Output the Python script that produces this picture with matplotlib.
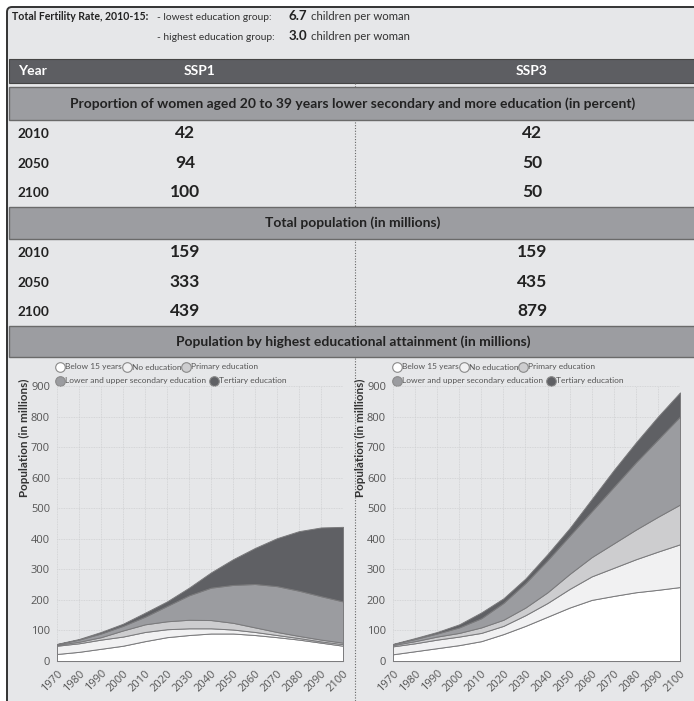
import matplotlib
matplotlib.use("Agg")
import matplotlib.pyplot as plt
from matplotlib.patches import Rectangle, FancyBboxPatch

# ---------------- data ----------------
years = [1970, 1980, 1990, 2000, 2010, 2020, 2030, 2040, 2050, 2060, 2070, 2080, 2090, 2100]
categories = ["Below 15 years", "No education", "Primary education",
              "Lower and upper secondary education", "Tertiary education"]

# SSP1 (millions), per category
ssp1_below15 = [23, 30, 40, 50, 65, 78, 85, 90, 90, 85, 78, 70, 60, 50]
ssp1_noedu   = [27, 28, 30, 30, 30, 26, 22, 17, 13, 10, 7, 5, 4, 5]
ssp1_primary = [3, 5, 8, 20, 25, 26, 28, 27, 22, 15, 10, 7, 6, 5]
ssp1_second  = [2, 7, 12, 15, 25, 50, 80, 106, 124, 142, 150, 148, 142, 135]
ssp1_tertiary = [1, 2, 5, 7, 13, 15, 25, 50, 84, 118, 157, 195, 225, 244]

# SSP3 (millions), per category
ssp3_below15 = [22, 32, 42, 52, 65, 88, 115, 145, 175, 200, 213, 225, 233, 242]
ssp3_noedu   = [26, 26, 28, 28, 27, 27, 35, 45, 61, 77, 92, 108, 125, 140]
ssp3_primary = [4, 7, 10, 12, 18, 20, 25, 35, 49, 63, 80, 97, 114, 130]
ssp3_second  = [3, 7, 10, 18, 30, 55, 80, 105, 125, 150, 185, 220, 253, 288]
ssp3_tertiary = [1, 3, 5, 10, 19, 15, 15, 20, 25, 40, 55, 65, 75, 79]

table_years = ["2010", "2050", "2100"]
prop_ssp1 = ["42", "94", "100"]
prop_ssp3 = ["42", "50", "50"]
pop_ssp1 = ["159", "333", "439"]
pop_ssp3 = ["159", "435", "879"]

tfr_low = "6.7"
tfr_high = "3.0"

# ---------------- style ----------------
W, H = 694, 701
BG = "#e6e7e9"
DARK = "#5d5e62"
MID = "#9c9da1"
fills = ["#ffffff", "#f1f1f2", "#cdcdcf", "#9b9ca0", "#5f6064"]
FONT = ["Lato", "DejaVu Sans"]
TFONT = ["Open Sans", "DejaVu Sans"]

fig = plt.figure(figsize=(W / 100, H / 100), dpi=100)
fig.patch.set_facecolor("white")

bg = fig.add_axes([0, 0, 1, 1])
bg.set_xlim(0, W)
bg.set_ylim(H, 0)
bg.axis("off")

# outer panel
bg.add_patch(FancyBboxPatch((7, 7), W + 20, H + 20, boxstyle="round,pad=0,rounding_size=5",
                            facecolor=BG, edgecolor="#333333", linewidth=1.4, zorder=0))

# header text
bg.text(12, 17, "Total Fertility Rate, 2010-15:", fontsize=7.6, fontweight="bold",
        family=FONT, va="center", ha="left", color="#222222")
bg.text(157, 17, "- lowest education group:", fontsize=7.4, family=FONT, va="center", color="#333333")
bg.text(157, 37, "- highest education group:", fontsize=7.4, family=FONT, va="center", color="#333333")
bg.text(289, 16, tfr_low, fontsize=9.6, fontweight="bold", family=FONT, va="center", color="#222222")
bg.text(289, 36, tfr_high, fontsize=9.6, fontweight="bold", family=FONT, va="center", color="#222222")
bg.text(311, 17, "children per woman", fontsize=8.2, family=FONT, va="center", color="#333333")
bg.text(311, 37, "children per woman", fontsize=8.2, family=FONT, va="center", color="#333333")

# dark header bar
bg.add_patch(Rectangle((9, 59), W, 24, facecolor=DARK, edgecolor="#444444", lw=0.8, zorder=1))
bg.text(18, 71, "Year", fontsize=10, fontweight="bold", family=FONT, color="white", va="center")
bg.text(200, 71, "SSP1", fontsize=10, fontweight="bold", family=FONT, color="white", va="center", ha="center")
bg.text(532, 71, "SSP3", fontsize=10, fontweight="bold", family=FONT, color="white", va="center", ha="center")

# divider
bg.plot([355, 355], [83, H], color="#666666", lw=0.8, ls=(0, (1, 1.5)), zorder=1)


def section(y0, y1, label):
    bg.add_patch(Rectangle((9, y0), W, y1 - y0, facecolor=MID, edgecolor="#6a6a6a", lw=1.0, zorder=2))
    bg.text(353, (y0 + y1) / 2, label, fontsize=10, fontweight="bold", family=FONT,
            color="#222222", va="center", ha="center", zorder=3)


section(87, 120, "Proportion of women aged 20 to 39 years lower secondary and more education (in percent)")
section(207, 239, "Total population (in millions)")
section(326, 357, "Population by highest educational attainment (in millions)")

rows1 = [133, 163, 192]
rows2 = [252, 282, 311]
for ys, left, right in [(rows1, prop_ssp1, prop_ssp3), (rows2, pop_ssp1, pop_ssp3)]:
    for y, yr, a, b in zip(ys, table_years, left, right):
        bg.text(17, y + 1, yr, fontsize=9.8, fontweight="bold", family=FONT, color="#222222", va="center")
        bg.text(185, y, a, fontsize=12.5, fontweight="bold", family=FONT, color="#222222", va="center", ha="center")
        bg.text(532, y, b, fontsize=12.5, fontweight="bold", family=FONT, color="#222222", va="center", ha="center")


def chart(x0, x1, series, legend_x):
    y_top, y_bot = 386, 661
    ax = fig.add_axes([x0 / W, 1 - y_bot / H, (x1 - x0) / W, (y_bot - y_top) / H])
    ax.set_facecolor("none")
    base = [0] * len(years)
    for vals, col in zip(series, fills):
        top = [b + v for b, v in zip(base, vals)]
        ax.fill_between(years, base, top, facecolor=col, edgecolor="#7a7a7c", linewidth=0.7, zorder=3)
        base = top
    ax.set_xlim(1970, 2100)
    ax.set_ylim(0, 900)
    ax.set_xticks(years)
    ax.set_yticks(range(0, 901, 100))
    ax.grid(True, color="#cfd0d2", lw=0.6, ls=(0, (1, 1)), zorder=0)
    for s in ["top", "left", "right"]:
        ax.spines[s].set_visible(False)
    ax.spines["bottom"].set_color("#9a9a9a")
    ax.tick_params(length=0, pad=5, colors="#555555")
    for lab in ax.get_yticklabels():
        lab.set_fontsize(8)
        lab.set_family(TFONT)
    for lab in ax.get_xticklabels():
        lab.set_fontsize(8)
        lab.set_family(TFONT)
        lab.set_rotation(45)
        lab.set_ha("right")
        lab.set_va("top")
        lab.set_rotation_mode("anchor")
    # y label
    bg.text(x0 - 33, 438, "Population (in millions)", rotation=90, fontsize=8.4, fontweight="bold",
            family=FONT, color="#333333", ha="center", va="center")
    # legend
    cx = legend_x
    items = [(0, 367, 0), (67, 367, 1), (126, 367, 2), (0, 381, 3), (154, 381, 4)]
    for dx, y, i in items:
        bg.scatter([cx + dx], [y], s=48, facecolor=fills[i], edgecolor="#8a8a8a", linewidth=0.8, zorder=4)
        bg.text(cx + dx + 5, y, categories[i], fontsize=6.0, family=FONT, color="#555555", va="center", ha="left")
    return ax


chart(57, 343, [ssp1_below15, ssp1_noedu, ssp1_primary, ssp1_second, ssp1_tertiary], 60)
chart(393, 680, [ssp3_below15, ssp3_noedu, ssp3_primary, ssp3_second, ssp3_tertiary], 397)

fig.savefig("out.png", dpi=100, facecolor="white")
